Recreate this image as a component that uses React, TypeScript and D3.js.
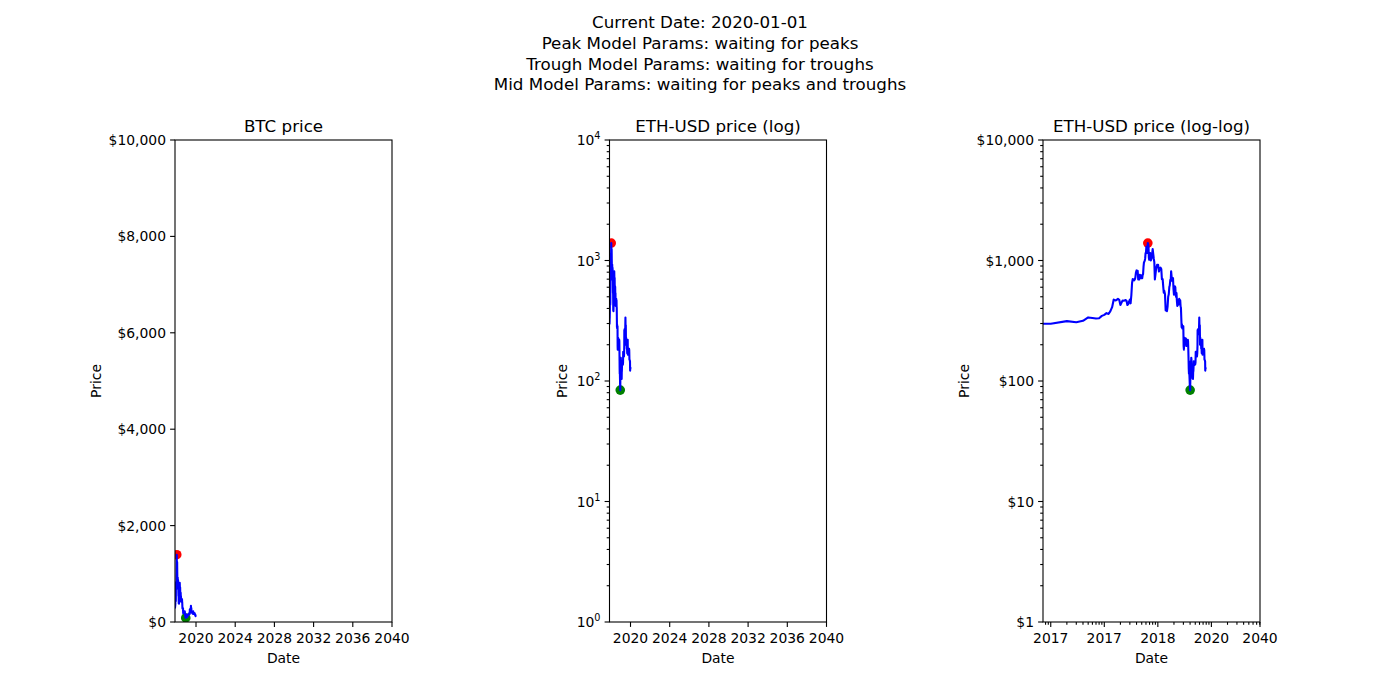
import React from 'react'
import * as d3 from 'd3'

const dates: string[] = [
  '2017-11-09', '2017-11-10', '2017-11-11', '2017-11-12', '2017-11-13', '2017-11-14', '2017-11-15',
  '2017-11-16', '2017-11-17', '2017-11-18', '2017-11-19', '2017-11-20', '2017-11-21', '2017-11-22',
  '2017-11-23', '2017-11-24', '2017-11-25', '2017-11-26', '2017-11-27', '2017-11-28', '2017-11-29',
  '2017-11-30', '2017-12-01', '2017-12-02', '2017-12-03', '2017-12-04', '2017-12-05', '2017-12-06',
  '2017-12-07', '2017-12-08', '2017-12-09', '2017-12-10', '2017-12-11', '2017-12-12', '2017-12-13',
  '2017-12-14', '2017-12-15', '2017-12-16', '2017-12-17', '2017-12-18', '2017-12-19', '2017-12-20',
  '2017-12-21', '2017-12-22', '2017-12-23', '2017-12-24', '2017-12-25', '2017-12-26', '2017-12-27',
  '2017-12-28', '2017-12-29', '2017-12-30', '2017-12-31', '2018-01-01', '2018-01-02', '2018-01-03',
  '2018-01-04', '2018-01-05', '2018-01-06', '2018-01-07', '2018-01-08', '2018-01-09', '2018-01-10',
  '2018-01-11', '2018-01-12', '2018-01-13', '2018-01-14', '2018-01-15', '2018-01-16', '2018-01-17',
  '2018-01-18', '2018-01-19', '2018-01-20', '2018-01-22', '2018-01-25', '2018-01-28', '2018-02-01',
  '2018-02-03', '2018-02-05', '2018-02-07', '2018-02-10', '2018-02-14', '2018-02-18', '2018-02-22',
  '2018-02-26', '2018-03-01', '2018-03-05', '2018-03-08', '2018-03-12', '2018-03-15', '2018-03-18',
  '2018-03-21', '2018-03-25', '2018-03-29', '2018-04-01', '2018-04-06', '2018-04-10', '2018-04-14',
  '2018-04-18', '2018-04-22', '2018-04-25', '2018-04-29', '2018-05-02', '2018-05-05', '2018-05-08',
  '2018-05-12', '2018-05-16', '2018-05-20', '2018-05-24', '2018-05-28', '2018-06-01', '2018-06-05',
  '2018-06-09', '2018-06-12', '2018-06-16', '2018-06-20', '2018-06-24', '2018-06-28', '2018-07-02',
  '2018-07-06', '2018-07-10', '2018-07-14', '2018-07-18', '2018-07-22', '2018-07-25', '2018-07-29',
  '2018-08-02', '2018-08-06', '2018-08-10', '2018-08-14', '2018-08-18', '2018-08-22', '2018-08-27',
  '2018-08-31', '2018-09-04', '2018-09-08', '2018-09-12', '2018-09-16', '2018-09-20', '2018-09-24',
  '2018-09-28', '2018-10-02', '2018-10-06', '2018-10-10', '2018-10-14', '2018-10-18', '2018-10-22',
  '2018-10-26', '2018-10-30', '2018-11-03', '2018-11-07', '2018-11-11', '2018-11-15', '2018-11-19',
  '2018-11-22', '2018-11-25', '2018-11-28', '2018-12-01', '2018-12-05', '2018-12-09', '2018-12-12',
  '2018-12-15', '2018-12-18', '2018-12-21', '2018-12-24', '2018-12-27', '2018-12-31', '2019-01-04',
  '2019-01-08', '2019-01-12', '2019-01-16', '2019-01-20', '2019-01-24', '2019-01-28', '2019-02-01',
  '2019-02-05', '2019-02-09', '2019-02-13', '2019-02-17', '2019-02-21', '2019-02-25', '2019-03-01',
  '2019-03-08', '2019-03-15', '2019-03-22', '2019-03-29', '2019-04-03', '2019-04-10', '2019-04-17',
  '2019-04-24', '2019-05-01', '2019-05-08', '2019-05-13', '2019-05-16', '2019-05-22', '2019-05-29',
  '2019-06-05', '2019-06-12', '2019-06-19', '2019-06-26', '2019-06-30', '2019-07-05', '2019-07-10',
  '2019-07-16', '2019-07-20', '2019-07-27', '2019-08-03', '2019-08-10', '2019-08-17', '2019-08-24',
  '2019-08-31', '2019-09-07', '2019-09-14', '2019-09-19', '2019-09-24', '2019-10-01', '2019-10-08',
  '2019-10-15', '2019-10-22', '2019-10-26', '2019-11-01', '2019-11-08', '2019-11-15', '2019-11-22',
  '2019-11-29', '2019-12-06', '2019-12-13', '2019-12-17', '2019-12-21', '2019-12-26', '2020-01-01',
]

const prices: number[] = [
  300, 299, 314, 307, 316, 337, 333,
  330, 332, 347, 354, 366, 360, 380,
  410, 474, 466, 471, 480, 472, 428,
  447, 466, 463, 465, 470, 463, 428,
  434, 456, 473, 441, 515, 651, 702,
  696, 684, 694, 720, 794, 827, 819,
  821, 695, 718, 695, 762, 753, 740,
  713, 755, 712, 756, 772, 884, 962,
  980, 997, 1041, 1153, 1148, 1299, 1255,
  1154, 1273, 1396, 1366, 1292, 1054, 1015,
  1036, 1039, 1155, 1003, 1056, 1246, 1036,
  964, 697, 757, 860, 920, 923, 810,
  868, 872, 850, 700, 700, 610, 540,
  560, 525, 385, 398, 380, 415, 500,
  525, 605, 620, 690, 675, 815, 750,
  680, 710, 715, 580, 520, 580, 610,
  600, 530, 500, 536, 460, 420, 475,
  465, 430, 435, 480, 460, 470, 466,
  415, 405, 335, 280, 295, 273, 285,
  283, 285, 195, 182, 222, 225, 228,
  223, 225, 225, 225, 195, 205, 205,
  201, 198, 205, 220, 212, 180, 148,
  126, 115, 120, 118, 105, 93, 88,
  84, 100, 116, 146, 117, 133, 156,
  150, 125, 122, 118, 117, 105, 107,
  104, 119, 121, 132, 146, 138, 135,
  138, 138, 137, 142, 175, 175, 167,
  165, 160, 170, 196, 265, 256, 270,
  245, 260, 270, 336, 290, 290, 290,
  200, 230, 205, 222, 210, 185, 192,
  170, 178, 188, 220, 165, 177, 180,
  168, 171, 180, 183, 185, 180, 150,
  150, 148, 145, 122, 128, 126, 130,
]

const titleLines = [
  'Current Date: 2020-01-01',
  'Peak Model Params: waiting for peaks',
  'Trough Model Params: waiting for troughs',
  'Mid Model Params: waiting for peaks and troughs',
]
const panelTitles = ['BTC price', 'ETH-USD price (log)', 'ETH-USD price (log-log)']
const X_END = '2040-01-01'
const yearTicks = [2020, 2024, 2028, 2032, 2036, 2040]
const linearPriceTicks = [0, 2000, 4000, 6000, 8000, 10000]
const logPriceTicks = [1, 10, 100, 1000, 10000]
const logDayTicks = [1, 10, 100, 1000]

const W = 1400
const H = 700
const TOP = 140
const BOTTOM = 622
const PW = 217
const LEFTS = [175, 609.5, 1043]
const FONT = '"DejaVu Sans", sans-serif'
const TICK_FS = 13.9
const MAJOR = 4.9
const MINOR = 2.8
const DAY = 86400000

const parse = d3.utcParse('%Y-%m-%d')
const series = dates.map((d, i) => ({ date: parse(d) as Date, price: prices[i] }))
const start = series[0].date
const end = parse(X_END) as Date
const dayOf = (d: Date) => (d.getTime() - start.getTime()) / DAY
const peakIdx = d3.maxIndex(prices)
const troughIdx = d3.minIndex(prices)

const usd = (v: number) => '$' + d3.format(',')(v)

const logMinors = (lo: number, hi: number) => {
  const out: number[] = []
  for (let e = Math.floor(Math.log10(lo)); e <= Math.ceil(Math.log10(hi)); e++) {
    for (let k = 2; k <= 9; k++) {
      const v = k * Math.pow(10, e)
      if (v >= lo && v <= hi) out.push(v)
    }
  }
  return out
}

type Tick = { pos: number; label?: React.ReactNode; major: boolean }

const Axes: React.FC<{
  idx: number
  title: string
  xTicks: Tick[]
  yTicks: Tick[]
  ylabelX: number
  children: React.ReactNode
}> = ({ idx, title, xTicks, yTicks, ylabelX, children }) => {
  const left = LEFTS[idx]
  const right = left + PW
  const clipId = `clip${idx}`
  return (
    <g>
      <defs>
        <clipPath id={clipId}>
          <rect x={left} y={TOP} width={PW} height={BOTTOM - TOP} />
        </clipPath>
      </defs>
      <g clipPath={`url(#${clipId})`}>{children}</g>
      <rect x={left} y={TOP} width={PW} height={BOTTOM - TOP} fill="none" stroke="#000" strokeWidth={1.1} />
      {xTicks.map((t, i) => (
        <g key={'x' + i}>
          <line x1={t.pos} x2={t.pos} y1={BOTTOM} y2={BOTTOM + (t.major ? MAJOR : MINOR)} stroke="#000" strokeWidth={1.1} />
          {t.label !== undefined && (
            <text x={t.pos} y={BOTTOM + 21} textAnchor="middle" fontSize={TICK_FS}>
              {t.label}
            </text>
          )}
        </g>
      ))}
      {yTicks.map((t, i) => (
        <g key={'y' + i}>
          <line x1={left} x2={left - (t.major ? MAJOR : MINOR)} y1={t.pos} y2={t.pos} stroke="#000" strokeWidth={1.1} />
          {t.label !== undefined && (
            <text x={left - 9} y={t.pos + 5} textAnchor="end" fontSize={TICK_FS}>
              {t.label}
            </text>
          )}
        </g>
      ))}
      <text x={(left + right) / 2} y={132} textAnchor="middle" fontSize={16.7}>
        {title}
      </text>
      <text x={(left + right) / 2} y={663} textAnchor="middle" fontSize={TICK_FS}>
        Date
      </text>
      <text
        transform={`translate(${ylabelX},${(TOP + BOTTOM) / 2}) rotate(-90)`}
        textAnchor="middle"
        dominantBaseline="central"
        fontSize={TICK_FS}
      >
        Price
      </text>
    </g>
  )
}

const Marks: React.FC<{ pts: { x: number; y: number }[]; peak: { x: number; y: number }; trough: { x: number; y: number } }> = ({
  pts,
  peak,
  trough,
}) => {
  const line = d3
    .line<{ x: number; y: number }>()
    .x(d => d.x)
    .y(d => d.y)
  return (
    <g>
      <circle cx={peak.x} cy={peak.y} r={4.8} fill="#ff0000" />
      <circle cx={trough.x} cy={trough.y} r={4.8} fill="#008000" />
      <path d={line(pts) || ''} fill="none" stroke="#0000ff" strokeWidth={2.1} strokeLinejoin="round" />
    </g>
  )
}

const App: React.FC = () => {
  // panel 1: linear date x linear price
  const x1 = d3.scaleUtc().domain([start, end]).range([LEFTS[0], LEFTS[0] + PW])
  const yLin = d3.scaleLinear().domain([0, 10000]).range([BOTTOM, TOP])
  // panel 2: linear date x log price
  const x2 = d3.scaleUtc().domain([start, end]).range([LEFTS[1], LEFTS[1] + PW])
  const yLog = d3.scaleLog().domain([1, 10000]).range([BOTTOM, TOP])
  // panel 3: log days x log price
  const lastDay = dayOf(series[series.length - 1].date)
  const leftDay = Math.pow(10, -0.05 * Math.log10(lastDay))
  const x3 = d3.scaleLog().domain([leftDay, dayOf(end)]).range([LEFTS[2], LEFTS[2] + PW])
  const x3c = (d: number) => x3(Math.max(d, 1e-4))

  const yearTickObjs = (xs: d3.ScaleTime<number, number>): Tick[] =>
    yearTicks.map(y => ({ pos: xs(new Date(Date.UTC(y, 0, 1))), label: String(y), major: true }))

  const supLabel = (v: number) => (
    <>
      10<tspan dy={-6} fontSize={9.7}>{Math.round(Math.log10(v))}</tspan>
    </>
  )

  const yMinorLog = logMinors(1, 10000).map(v => ({ pos: yLog(v), major: false }))

  const yTicks1: Tick[] = linearPriceTicks.map(v => ({ pos: yLin(v), label: usd(v), major: true }))
  const yTicks2: Tick[] = [...logPriceTicks.map(v => ({ pos: yLog(v), label: supLabel(v), major: true })), ...yMinorLog]
  const yTicks3: Tick[] = [...logPriceTicks.map(v => ({ pos: yLog(v), label: usd(v), major: true })), ...yMinorLog]

  const yearOfDay = (d: number) => d3.utcFormat('%Y')(new Date(start.getTime() + d * DAY))
  const xTicks3: Tick[] = [
    ...logDayTicks.map(d => ({ pos: x3(d), label: yearOfDay(d), major: true })),
    { pos: x3(dayOf(end)), label: d3.utcFormat('%Y')(end), major: true },
    ...logMinors(leftDay, dayOf(end)).map(d => ({ pos: x3(d), major: false })),
  ]

  const pts1 = series.map(d => ({ x: x1(d.date), y: yLin(d.price) }))
  const pts2 = series.map(d => ({ x: x2(d.date), y: yLog(d.price) }))
  const pts3 = series.map(d => ({ x: x3c(dayOf(d.date)), y: yLog(d.price) }))

  return (
    <svg width={W} height={H} style={{ display: 'block', position: 'absolute', left: 0, top: 0 }} fontFamily={FONT}>
      <rect width={W} height={H} fill="#fff" />
      {titleLines.map((t, i) => (
        <text key={i} x={700} y={28 + i * 20.8} textAnchor="middle" fontSize={16.7}>
          {t}
        </text>
      ))}
      <Axes idx={0} title={panelTitles[0]} xTicks={yearTickObjs(x1)} yTicks={yTicks1} ylabelX={96}>
        <Marks pts={pts1} peak={pts1[peakIdx]} trough={pts1[troughIdx]} />
      </Axes>
      <Axes idx={1} title={panelTitles[1]} xTicks={yearTickObjs(x2)} yTicks={yTicks2} ylabelX={562}>
        <Marks pts={pts2} peak={pts2[peakIdx]} trough={pts2[troughIdx]} />
      </Axes>
      <Axes idx={2} title={panelTitles[2]} xTicks={xTicks3} yTicks={yTicks3} ylabelX={964}>
        <Marks pts={pts3} peak={pts3[peakIdx]} trough={pts3[troughIdx]} />
      </Axes>
    </svg>
  )
}

export default App
